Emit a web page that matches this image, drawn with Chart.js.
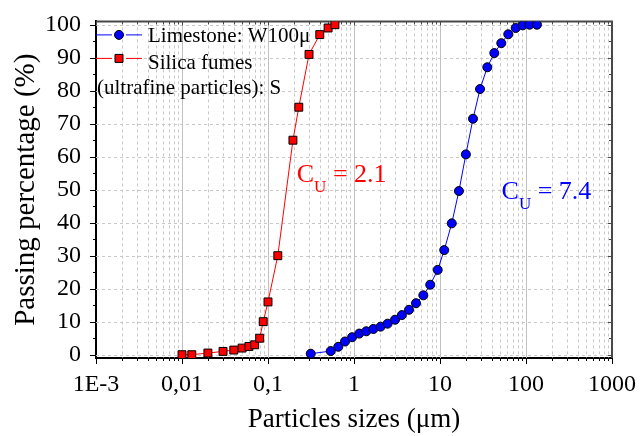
<!DOCTYPE html>
<html>
<head>
<meta charset="utf-8">
<script src="https://cdn.jsdelivr.net/npm/chart.js@4.4.1/dist/chart.umd.min.js"></script>
<style>
  html, body { margin: 0; padding: 0; background: #fff; }
</style>
</head>
<body>
<canvas id="psdChart" width="641" height="436"></canvas>
<script>
    // --- DATA ---
    const limestoneSize = [0.314, 0.536, 0.657, 0.786, 0.95, 1.15, 1.39, 1.68, 2.04, 2.46, 3.0, 3.6, 4.36, 5.26, 6.4, 7.7, 9.4, 11.2, 13.7, 16.6, 20, 24.2, 29.2, 35.5, 42.8, 51.6, 62.2, 75.9, 91.6, 110, 134];
    const limestonePass = [0.3, 1.1, 2.4, 4.0, 5.3, 6.4, 7.1, 7.8, 8.5, 9.4, 10.6, 12.0, 13.6, 15.6, 18.0, 21.2, 25.7, 31.7, 39.8, 49.6, 60.7, 71.5, 80.5, 87.1, 91.4, 94.4, 97.1, 99.0, 99.8, 100, 100];

    const silicaSize = [0.01, 0.013, 0.02, 0.03, 0.04, 0.05, 0.06, 0.07, 0.08, 0.088, 0.1, 0.13, 0.195, 0.228, 0.3, 0.4, 0.5, 0.6];
    const silicaPass = [0, 0, 0.5, 1, 1.4, 2, 2.5, 3, 5, 10, 16, 30, 65, 75, 91, 97, 99, 100];

    const legendLines = ['Limestone: W100μ', 'Silica fumes', '(ultrafine particles): S'];
    const decadeTicks = [0.001, 0.01, 0.1, 1, 10, 100, 1000];
    const decadeLabels = ['1E-3', '0,01', '0,1', '1', '10', '100', '1000'];
    const yTicks = [0, 10, 20, 30, 40, 50, 60, 70, 80, 90, 100];
    const cuValues = ['2.1', '7.4'];

    const serif = "'Liberation Serif', 'DejaVu Serif', serif";
    Chart.defaults.font.family = serif;
    Chart.defaults.color = '#000';

    // grid, frame, minor ticks, legend and the Cu notes
    const paperPlot = {
        id: 'paperPlot',
        beforeDatasetsDraw(chart) {
            const { ctx, chartArea: a, scales: { x, y } } = chart;
            const line = (x1, y1, x2, y2) => { ctx.beginPath(); ctx.moveTo(x1, y1); ctx.lineTo(x2, y2); ctx.stroke(); };
            ctx.save();
            ctx.lineWidth = 1;
            ctx.strokeStyle = '#c8c8c8';
            ctx.setLineDash([3, 3]);
            decadeTicks.slice(0, -1).forEach(d => {
                for (let m = 2; m <= 9; m++) {
                    const px = Math.round(x.getPixelForValue(d * m)) + 0.5;
                    line(px, a.top, px, a.bottom);
                }
            });
            yTicks.forEach(v => {
                const py = Math.round(y.getPixelForValue(v)) + 0.5;
                line(a.left, py, a.right, py);
            });
            ctx.setLineDash([]);
            ctx.strokeStyle = '#c0c0c0';
            decadeTicks.slice(1, -1).forEach(d => {
                const px = Math.round(x.getPixelForValue(d)) + 0.5;
                line(px, a.top, px, a.bottom);
            });

            // top / right frame
            ctx.strokeStyle = '#484848';
            ctx.lineWidth = 2;
            ctx.beginPath();
            ctx.moveTo(a.left, a.top); ctx.lineTo(a.right, a.top); ctx.lineTo(a.right, a.bottom);
            ctx.stroke();

            // tick marks: outward on left/bottom, inward on right/top
            ctx.lineWidth = 1;
            yTicks.forEach((v, i) => {
                const py = Math.round(y.getPixelForValue(v)) + 0.5;
                ctx.strokeStyle = '#000';
                line(a.left - 6, py, a.left, py);
                ctx.strokeStyle = '#484848';
                line(a.right - 4, py, a.right, py);
                if (i < yTicks.length - 1) {
                    const pm = Math.round(y.getPixelForValue(v + 5)) + 0.5;
                    ctx.strokeStyle = '#000';
                    line(a.left - 3, pm, a.left, pm);
                    ctx.strokeStyle = '#484848';
                    line(a.right - 3, pm, a.right, pm);
                }
            });
            decadeTicks.forEach((d, i) => {
                const px = Math.round(x.getPixelForValue(d)) + 0.5;
                ctx.strokeStyle = '#000';
                line(px, a.bottom, px, a.bottom + 6);
                ctx.strokeStyle = '#484848';
                line(px, a.top, px, a.top + 4);
                if (i < decadeTicks.length - 1) {
                    for (let m = 2; m <= 9; m++) {
                        const pm = Math.round(x.getPixelForValue(d * m)) + 0.5;
                        ctx.strokeStyle = '#000';
                        line(pm, a.bottom, pm, a.bottom + 3);
                        ctx.strokeStyle = '#484848';
                        line(pm, a.top, pm, a.top + 3);
                    }
                }
            });
            ctx.restore();
        },
        afterDatasetsDraw(chart) {
            const { ctx, chartArea: a, scales: { x, y } } = chart;
            ctx.save();

            // legend
            const rows = [
                { ly: a.top + 13.5, color: '#0000ff', style: 'circle' },
                { ly: a.top + 37, color: '#ff0000', style: 'rect' }
            ];
            rows.forEach(r => {
                ctx.strokeStyle = r.color;
                ctx.lineWidth = 1;
                ctx.beginPath();
                ctx.moveTo(a.left, r.ly); ctx.lineTo(a.left + 16, r.ly);
                ctx.moveTo(a.left + 30, r.ly); ctx.lineTo(a.left + 46, r.ly);
                ctx.stroke();
                ctx.fillStyle = r.color;
                ctx.strokeStyle = '#000';
                ctx.beginPath();
                if (r.style === 'circle') ctx.arc(a.left + 23, r.ly, 4.5, 0, Math.PI * 2);
                else ctx.rect(a.left + 19, r.ly - 4, 8, 8);
                ctx.fill(); ctx.stroke();
            });
            ctx.fillStyle = '#000';
            ctx.font = '21px ' + serif;
            ctx.textBaseline = 'alphabetic';
            ctx.textAlign = 'left';
            ctx.fillText(legendLines[0], a.left + 52, a.top + 21);
            ctx.fillText(legendLines[1], a.left + 52, a.top + 47.5);
            ctx.fillText(legendLines[2], a.left + 1, a.top + 72.5);

            // uniformity coefficients
            const notes = [
                { px: x.getPixelForValue(0.216), py: y.getPixelForValue(52.3), color: '#ff0000', val: cuValues[0] },
                { px: x.getPixelForValue(52), py: y.getPixelForValue(47.1), color: '#0000ff', val: cuValues[1] }
            ];
            notes.forEach(n => {
                ctx.fillStyle = n.color;
                ctx.font = '26px ' + serif;
                ctx.fillText('C', n.px, n.py);
                let cx = n.px + ctx.measureText('C').width;
                ctx.font = '17px ' + serif;
                ctx.fillText('U', cx, n.py + 10);
                cx += ctx.measureText('U').width;
                ctx.font = '26px ' + serif;
                ctx.fillText(' = ' + n.val, cx, n.py);
            });
            ctx.restore();
        }
    };

    const ctx = document.getElementById('psdChart').getContext('2d');

    new Chart(ctx, {
        type: 'line',
        data: {
            datasets: [{
                label: legendLines[0],
                data: limestoneSize.map((s, i) => ({ x: s, y: limestonePass[i] })),
                borderColor: '#0000ff',
                borderWidth: 1,
                pointStyle: 'circle',
                pointRadius: 4.5,
                pointBackgroundColor: '#0000ff',
                pointBorderColor: '#000',
                pointBorderWidth: 1,
                tension: 0
            }, {
                label: legendLines[1] + ' ' + legendLines[2],
                data: silicaSize.map((s, i) => ({ x: s, y: silicaPass[i] })),
                borderColor: '#ff0000',
                borderWidth: 1,
                pointStyle: 'rect',
                pointRadius: 5.6,
                pointBackgroundColor: '#ff0000',
                pointBorderColor: '#000',
                pointBorderWidth: 1,
                tension: 0
            }]
        },
        options: {
            responsive: false,
            animation: false,
            devicePixelRatio: 1,
            layout: { padding: { top: 16, right: 29, left: 0, bottom: 0 } },
            plugins: {
                legend: { display: false },
                tooltip: { enabled: false }
            },
            scales: {
                x: {
                    type: 'logarithmic',
                    min: 0.001,
                    max: 1000,
                    afterBuildTicks: s => { s.ticks = decadeTicks.map(v => ({ value: v })); },
                    afterFit: s => { s.height = 78; },
                    ticks: {
                        autoSkip: false,
                        maxRotation: 0,
                        padding: 4,
                        color: '#000',
                        font: { size: 24 },
                        callback: v => decadeLabels[decadeTicks.indexOf(v)]
                    },
                    grid: { display: false },
                    border: { color: '#000', width: 2 },
                    title: {
                        display: true,
                        text: 'Particles sizes (μm)',
                        color: '#000',
                        font: { size: 27 },
                        padding: { top: 0, bottom: 0 }
                    }
                },
                y: {
                    type: 'linear',
                    min: -1,
                    max: 101,
                    afterBuildTicks: s => { s.ticks = yTicks.map(v => ({ value: v })); },
                    afterFit: s => { s.width = 96; },
                    ticks: {
                        padding: 7,
                        color: '#000',
                        font: { size: 24 }
                    },
                    grid: { display: false },
                    border: { color: '#000', width: 2 },
                    title: {
                        display: true,
                        text: 'Passing percentage (%)',
                        color: '#000',
                        font: { size: 29 },
                        padding: { top: 9, bottom: 0 }
                    }
                }
            }
        },
        plugins: [paperPlot]
    });
</script>
</body>
</html>
